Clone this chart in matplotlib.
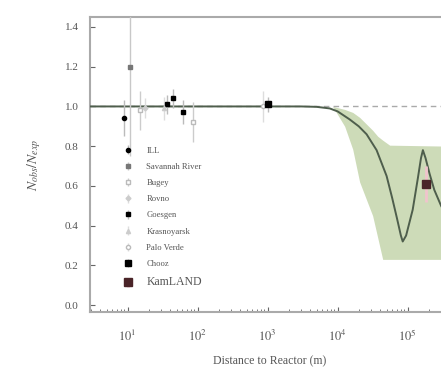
import matplotlib
matplotlib.use("Agg")
import matplotlib.pyplot as plt
import numpy as np

plt.rcParams['font.family'] = ['Liberation Serif', 'DejaVu Serif']
plt.rcParams['mathtext.fontset'] = 'stix'

# reactor experiments: distance (m), ratio, error
ill_x, ill_y, ill_e = [8.8], [0.94], [0.09]
sav_x, sav_y, sav_e = [10.7], [1.20], [0.45]
bug_x, bug_y, bug_e = [15.0, 87.0], [0.98, 0.92], [0.10, 0.10]
rov_x, rov_y, rov_e = [18.0], [0.99], [0.05]
goe_x, goe_y, goe_e = [36.0, 44.0, 61.0], [1.01, 1.04, 0.97], [0.05, 0.05, 0.06]
kra_x, kra_y, kra_e = [33.0], [0.99], [0.06]
pv_x, pv_y, pv_e = [850.0], [1.0], [0.08]
cho_x, cho_y, cho_e = [1000.0], [1.01], [0.04]
kam_x, kam_y, kam_e = [1.8e5], [0.61], [0.09]

# oscillation curve
curve_x = [2.0, 1000, 3000, 5000, 7700, 10000, 14800, 20000, 25900, 36000, 50000,
           60000, 70000, 80000, 85000, 95000, 118000, 140000, 155000, 165000,
           180000, 206000, 240000, 300000, 400000]
curve_y = [1.0, 1.0, 1.0, 0.998, 0.99, 0.975, 0.935, 0.90, 0.86, 0.78, 0.65,
           0.54, 0.44, 0.35, 0.32, 0.35, 0.48, 0.64, 0.74, 0.78,
           0.74, 0.66, 0.58, 0.50, 0.42]

# allowed band (95% C.L. LMA)
band_x = [8490, 12600, 16400, 20600, 31600, 37300, 44000, 55300, 400000]
band_lo = [1.0, 0.90, 0.785, 0.62, 0.45, 0.34, 0.23, 0.23, 0.23]
band_hi = [1.0, 0.985, 0.97, 0.945, 0.88, 0.85, 0.83, 0.805, 0.80]

fig = plt.figure(figsize=(4.41, 3.71), dpi=100)
ax = fig.add_axes([0.204, 0.159, 0.816, 0.795])

ax.fill_between(band_x, band_lo, band_hi, color='#cddbb8', lw=0, zorder=1)
ax.axhline(1.0, color='#aaaaaa', ls=(0, (4, 3)), lw=1, zorder=2)
ax.plot(curve_x, curve_y, color='#4e5e4c', lw=1.4, zorder=3)

kw = dict(ls='none', elinewidth=1, capsize=0, zorder=4)
ax.errorbar(ill_x, ill_y, ill_e, fmt='o', color='black', ecolor='#bbbbbb', ms=3, label='ILL', **kw)
ax.errorbar(sav_x, sav_y, sav_e, fmt='s', color='#777777', ecolor='#c8c8c8', ms=2.5, label='Savannah River', **kw)
ax.errorbar(bug_x, bug_y, bug_e, fmt='s', color='#bbbbbb', mfc='white', ecolor='#cccccc', ms=3, label='Bugey', **kw)
ax.errorbar(rov_x, rov_y, rov_e, fmt='D', color='#cccccc', ecolor='#dddddd', ms=2.5, label='Rovno', **kw)
ax.errorbar(goe_x, goe_y, goe_e, fmt='s', color='black', ecolor='#bbbbbb', ms=3.5, label='Goesgen', **kw)
ax.errorbar(kra_x, kra_y, kra_e, fmt='^', color='#cccccc', ecolor='#dddddd', ms=3, label='Krasnoyarsk', **kw)
ax.errorbar(pv_x, pv_y, pv_e, fmt='o', color='#bbbbbb', mfc='white', ecolor='#dddddd', ms=3, label='Palo Verde', **kw)
ax.errorbar(cho_x, cho_y, cho_e, fmt='s', color='black', ecolor='#bbbbbb', ms=5, label='Chooz', **kw)
ax.errorbar(kam_x, kam_y, kam_e, fmt='s', color='#4a2428', ecolor='#f0c4cc', ms=6, elinewidth=2, label='KamLAND',
            ls='none', capsize=0, zorder=5)

ax.set_xscale('log')
ax.set_xlim(2.9, 4e5)
ax.set_ylim(-0.035, 1.45)
ax.set_xticks([1e1, 1e2, 1e3, 1e4, 1e5])
ax.set_xticklabels([r'$10^1$', r'$10^2$', r'$10^3$', r'$10^4$', r'$10^5$'])
ax.set_yticks([0.0, 0.2, 0.4, 0.6, 0.8, 1.0, 1.2, 1.4])
ax.set_yticklabels(['0.0', '0.2', '0.4', '0.6', '0.8', '1.0', '1.2', '1.4'])
ax.tick_params(which='both', direction='in', colors='#666666', labelcolor='#555555', labelsize=8)
ax.tick_params(axis='x', labelsize=9, pad=12)
ax.tick_params(axis='y', pad=8)
for s in ax.spines.values():
    s.set_color('#aaaaaa')
    s.set_linewidth(1.5)

ax.set_xlabel('Distance to Reactor (m)', color='#555555', fontsize=8.5, labelpad=8)
ax.set_ylabel(r'$N_{obs}/N_{exp}$', color='#555555', fontsize=10, labelpad=16)

leg = ax.legend(loc='lower left', bbox_to_anchor=(0.075, 0.06), frameon=False, fontsize=6.2,
                labelspacing=0.95, handletextpad=1.5, handlelength=1.2, borderpad=0.2)
for t in leg.get_texts():
    t.set_color('#555555')
leg.get_texts()[-1].set_fontsize(8.5)

plt.savefig('out.png', dpi=100)
